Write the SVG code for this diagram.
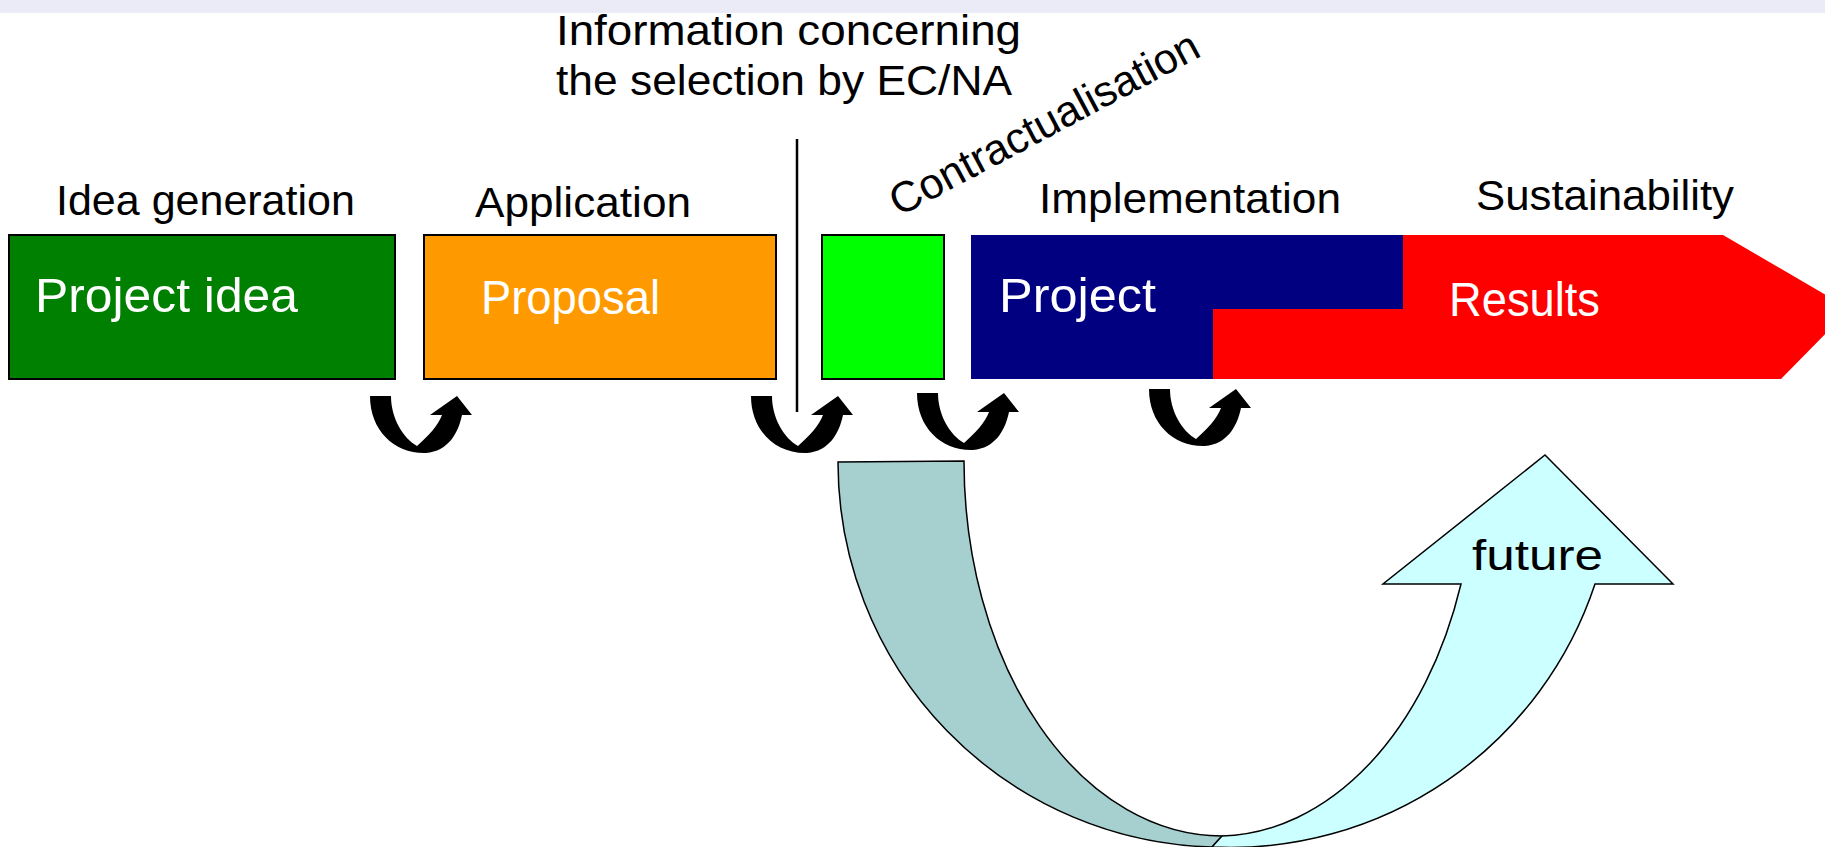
<svg xmlns="http://www.w3.org/2000/svg" width="1825" height="847" viewBox="0 0 1825 847">
  <style>
    .lbl { font-family: "Liberation Sans", Arial, sans-serif; font-size: 43px; fill: #000; }
    .box { stroke: #000; stroke-width: 2; }
    .btxt { font-family: "Liberation Sans", Arial, sans-serif; font-size: 48px; fill: #fff; }
    .edge { stroke: #000; stroke-width: 1.5; }
  </style>
  <defs>
    <path id="uturn" d="M0,0 L21,0 C21,22 33,42 47,50 C58,40 68,30 72,19 L60,19 L87,0 L102,19 L92,19 C88,38 78,55 56,57 C25,58 0,35 0,0 Z" fill="#000"/>
  </defs>
  <rect x="0" y="0" width="1825" height="13" fill="#EBEBF8"/>

  <g id="title-info">
    <text class="lbl" x="556" y="45" font-size="46" textLength="465" lengthAdjust="spacingAndGlyphs">Information concerning</text>
    <text class="lbl" x="556" y="95" font-size="46" textLength="456" lengthAdjust="spacingAndGlyphs">the selection by EC/NA</text>
  </g>

  <g id="idea">
    <text class="lbl" x="56" y="215">Idea generation</text>
    <rect class="box" x="9" y="235" width="386" height="144" fill="#008000"/>
    <text class="btxt" x="35" y="312" font-size="49" textLength="263" lengthAdjust="spacingAndGlyphs">Project idea</text>
  </g>

  <g id="application">
    <text class="lbl" x="475" y="217" textLength="216" lengthAdjust="spacingAndGlyphs">Application</text>
    <rect class="box" x="424" y="235" width="352" height="144" fill="#FF9900"/>
    <text class="btxt" x="481" y="314" font-size="46" textLength="179" lengthAdjust="spacingAndGlyphs">Proposal</text>
  </g>

  <g id="contractualisation">
    <text class="lbl" x="899" y="217" font-size="42" transform="rotate(-28 899 217)">Contractualisation</text>
    <rect class="box" x="822" y="235" width="122" height="144" fill="#00FF00"/>
  </g>

  <g id="implementation">
    <text class="lbl" x="1039" y="213" textLength="302" lengthAdjust="spacingAndGlyphs">Implementation</text>
    <rect x="971" y="235" width="432" height="144" fill="#000080"/>
    <text class="btxt" x="999" y="312" font-size="49" textLength="157" lengthAdjust="spacingAndGlyphs">Project</text>
  </g>

  <g id="sustainability">
    <text class="lbl" x="1476" y="210" textLength="258" lengthAdjust="spacingAndGlyphs">Sustainability</text>
    <polygon points="1403,235 1723,235 1850,309 1781,379 1213,379 1213,309 1403,309" fill="#FF0000"/>
    <text class="btxt" x="1449" y="316" font-size="46" textLength="151" lengthAdjust="spacingAndGlyphs">Results</text>
  </g>

  <g id="future">
    <path class="edge" d="M838,462 L964,461 A258,375 0 0 0 1222,836 L1212,847 A384,385 0 0 1 838,462 Z" fill="#A6CFD0"/>
    <path class="edge" d="M1212,847 A384,385 0 0 0 1595,584 L1673,584 L1545,455 L1383,584 L1461,584 A258,375 0 0 1 1222,836 Z" fill="#CCFFFF"/>
    <text class="lbl" x="1472" y="570" font-size="47" textLength="131" lengthAdjust="spacingAndGlyphs">future</text>
  </g>

  <g id="connectors">
    <line x1="797" y1="139" x2="797" y2="412" stroke="#000" stroke-width="2.5"/>
    <use href="#uturn" transform="translate(370,396)"/>
    <use href="#uturn" transform="translate(751,396)"/>
    <use href="#uturn" transform="translate(917,393)"/>
    <use href="#uturn" transform="translate(1149,389)"/>
  </g>
</svg>
